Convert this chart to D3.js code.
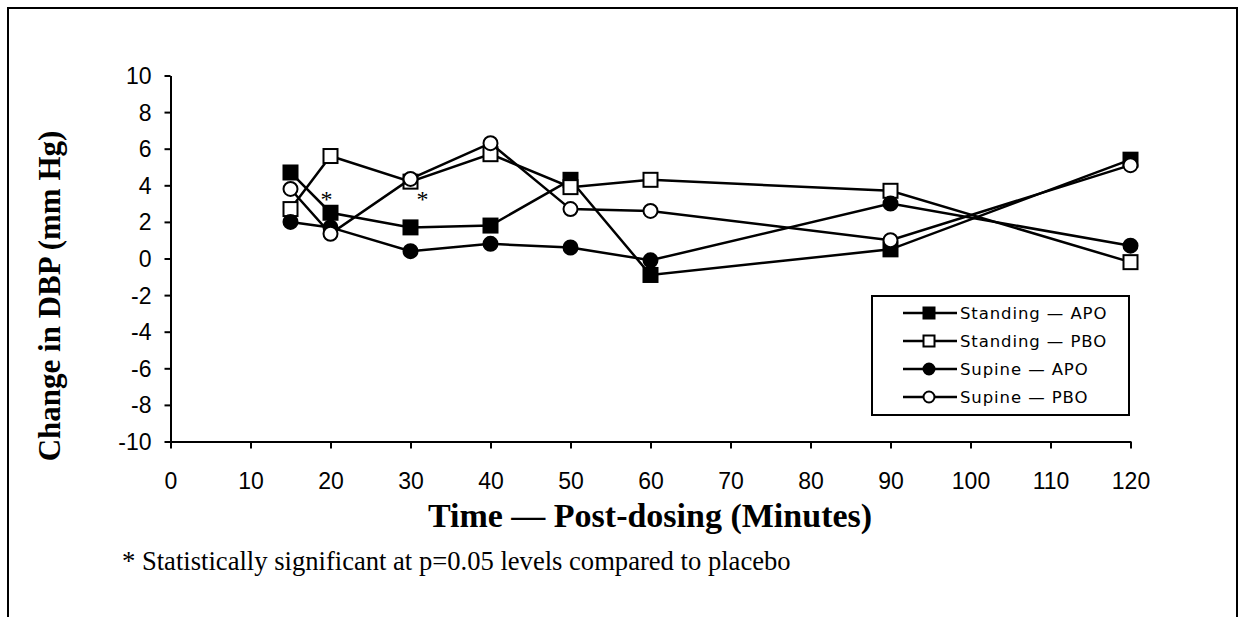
<!DOCTYPE html>
<html>
<head>
<meta charset="utf-8">
<script src="https://cdn.jsdelivr.net/npm/d3@7"></script>
<style>
  body { margin: 0; background: #fff; }
  svg { display: block; }
  .tick text { font-family: "Liberation Sans", Arial, sans-serif; font-size: 23px; fill: #000; }
  .tick line, .domain { stroke: #000; stroke-width: 2px; }
</style>
</head>
<body>
<script>
// data
const times = [15, 20, 30, 40, 50, 60, 90, 120];
const standingApo = [4.7, 2.5, 1.7, 1.8, 4.3, -0.9, 0.5, 5.4];
const standingPbo = [2.7, 5.6, 4.2, 5.7, 3.9, 4.3, 3.7, -0.2];
const supineApo = [2.0, 1.7, 0.4, 0.8, 0.6, -0.1, 3.0, 0.7];
const supinePbo = [3.8, 1.35, 4.35, 6.3, 2.7, 2.6, 1.0, 5.1];
const seriesNames = ["Standing \u2014 APO", "Standing \u2014 PBO", "Supine \u2014 APO", "Supine \u2014 PBO"];
const xTicks = d3.range(0, 121, 10);
const yTicks = d3.range(-10, 11, 2);
const starTimes = [20, 30];   // significance markers

const series = [
  {name: seriesNames[0], values: standingApo, shape: "square", fill: "#000"},
  {name: seriesNames[1], values: standingPbo, shape: "square", fill: "#fff"},
  {name: seriesNames[2], values: supineApo, shape: "circle", fill: "#000"},
  {name: seriesNames[3], values: supinePbo, shape: "circle", fill: "#fff"},
];

const W = 1243, H = 617;
const svg = d3.select("body").append("svg")
  .attr("width", W)
  .attr("height", H);

// outer frame (bottom edge runs off the page)
svg.append("rect")
  .attr("x", 8).attr("y", 8)
  .attr("width", 1229).attr("height", 640)
  .style("fill", "none").style("stroke", "#000").style("stroke-width", 2);

const x = d3.scaleLinear().domain([0, 120]).range([170.5, 1130.5]);
const y = d3.scaleLinear().domain([-10, 10]).range([441.5, 75.5]);

// axes
svg.append("g")
  .attr("transform", "translate(0," + y(-10) + ")")
  .call(d3.axisBottom(x).tickValues(xTicks).tickFormat(d => String(d))
    .tickSize(7).tickSizeOuter(0).tickPadding(32));

svg.append("g")
  .attr("transform", "translate(" + x(0) + ",0)")
  .call(d3.axisLeft(y).tickValues(yTicks).tickFormat(d => String(d))
    .tickSize(6).tickSizeOuter(0).tickPadding(13));

svg.selectAll(".tick text").attr("dy", null).attr("dominant-baseline", "central");

// series
const line = d3.line()
  .x((d, i) => x(times[i]))
  .y(d => y(d));

function drawMarker(g, shape, fill, cx, cy, size) {
  if (shape === "square") {
    g.append("rect")
      .attr("x", cx - size / 2).attr("y", cy - size / 2)
      .attr("width", size).attr("height", size)
      .style("fill", fill).style("stroke", "#000").style("stroke-width", 2);
  } else {
    g.append("circle")
      .attr("cx", cx).attr("cy", cy).attr("r", size / 2)
      .style("fill", fill).style("stroke", "#000").style("stroke-width", 2);
  }
}

series.forEach(s => {
  const g = svg.append("g");
  g.append("path")
    .datum(s.values)
    .attr("d", line)
    .style("fill", "none").style("stroke", "#000").style("stroke-width", 2.5);
  s.values.forEach((v, i) => drawMarker(g, s.shape, s.fill, x(times[i]), y(v), 14));
});

// significance asterisks
svg.selectAll(".star")
  .data(starTimes)
  .enter().append("text")
  .attr("x", d => x(d) - 4 + (d === 30 ? 16 : 0))
  .attr("y", 207)
  .attr("text-anchor", "middle")
  .style("font-family", "'Liberation Serif', 'Times New Roman', serif")
  .style("font-size", "24px")
  .text("*");

// legend
const legend = svg.append("g").attr("transform", "translate(872,296)");
legend.append("rect")
  .attr("width", 257).attr("height", 119)
  .style("fill", "#fff").style("stroke", "#000").style("stroke-width", 2);

series.forEach((s, i) => {
  const row = legend.append("g").attr("transform", "translate(0," + (17 + i * 28) + ")");
  row.append("line")
    .attr("x1", 31).attr("x2", 85)
    .style("stroke", "#000").style("stroke-width", 2.5);
  drawMarker(row, s.shape, s.fill, 57, 0, 11);
  row.append("text")
    .attr("x", 88)
    .attr("dominant-baseline", "central")
    .style("font-family", "'DejaVu Sans', sans-serif")
    .style("font-size", "16.5px")
    .style("letter-spacing", "0.9px")
    .text(s.name);
});

// titles
svg.append("text")
  .attr("transform", "translate(60,296) rotate(-90)")
  .attr("text-anchor", "middle")
  .style("font-family", "'Liberation Serif', 'Times New Roman', serif")
  .style("font-weight", "bold")
  .style("font-size", "31px")
  .text("Change in DBP (mm Hg)");

svg.append("text")
  .attr("x", 650).attr("y", 527)
  .attr("text-anchor", "middle")
  .style("font-family", "'Liberation Serif', 'Times New Roman', serif")
  .style("font-weight", "bold")
  .style("font-size", "34px")
  .text("Time \u2014 Post-dosing (Minutes)");

svg.append("text")
  .attr("x", 122).attr("y", 570)
  .style("font-family", "'Liberation Serif', 'Times New Roman', serif")
  .style("font-size", "26.6px")
  .text("* Statistically significant at p=0.05 levels compared to placebo");
</script>
</body>
</html>
